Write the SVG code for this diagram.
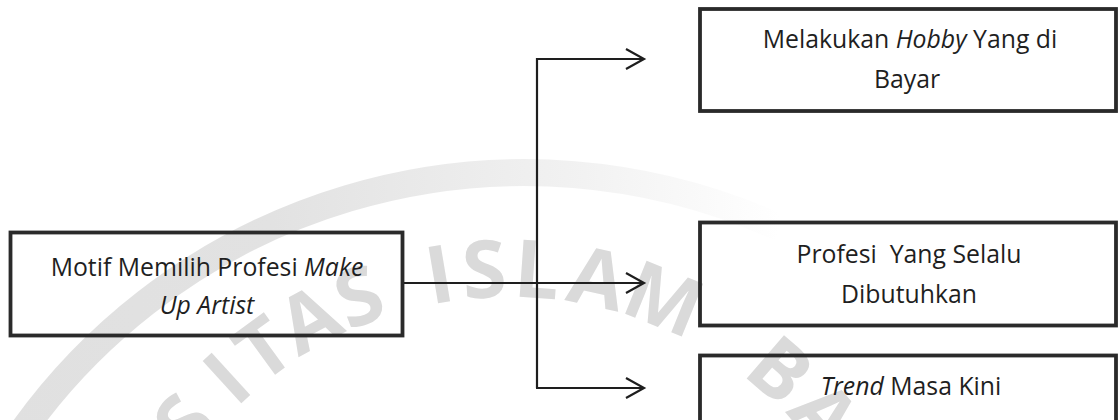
<svg xmlns="http://www.w3.org/2000/svg" width="1119" height="420" viewBox="0 0 1119 420">
<style>
.box{fill:none;stroke:#2a2a2a;stroke-width:3.8}
.lbl{font-family:"Open Sans","Noto Sans",sans-serif;font-size:24.8px;fill:#1f1f1f;text-anchor:middle}
.it{font-style:italic}
.wm{font-family:"Open Sans","Liberation Sans",sans-serif;font-weight:bold;font-size:80px;fill:#dadada;text-anchor:middle}
.con{fill:none;stroke:#1e1e1e;stroke-width:2.2}
</style>
<defs>
<linearGradient id="fade" gradientUnits="userSpaceOnUse" x1="0" y1="0" x2="780" y2="0">
<stop offset="0" stop-color="#e0e0e0"/>
<stop offset="0.35" stop-color="#e2e2e2"/>
<stop offset="0.75" stop-color="#f2f2f2"/>
<stop offset="1" stop-color="#ffffff"/>
</linearGradient>
<marker id="arr" markerWidth="22" markerHeight="24" refX="19" refY="11" orient="auto" markerUnits="userSpaceOnUse">
<path d="M1,1 L19,11 L1,21" fill="none" stroke="#1e1e1e" stroke-width="2.2"/>
</marker>
</defs>
<rect width="1119" height="420" fill="#ffffff"/>
<g id="watermark">
<path d="M3,460 A617,617 0 0 1 780,228" fill="none" stroke="url(#fade)" stroke-width="27"/>
<text class="wm" x="508" y="297" transform="rotate(-51 508 685)">S</text>
<text class="wm" x="508" y="297" transform="rotate(-42.5 508 685)">I</text>
<text class="wm" x="508" y="297" transform="rotate(-36 508 685)">T</text>
<text class="wm" x="508" y="297" transform="rotate(-28.5 508 685)">A</text>
<text class="wm" x="508" y="297" transform="rotate(-21 508 685)">S</text>
<text class="wm" x="508" y="297" transform="rotate(-9.5 508 685)">I</text>
<text class="wm" x="508" y="297" transform="rotate(-3.3 508 685)">S</text>
<text class="wm" x="508" y="297" transform="rotate(4 508 685)">L</text>
<text class="wm" x="508" y="297" transform="rotate(12.4 508 685)">A</text>
<text class="wm" x="508" y="297" transform="rotate(22 508 685)">M</text>
<text class="wm" x="508" y="297" transform="rotate(40.8 508 685)">B</text>
<text class="wm" x="508" y="297" transform="rotate(49.5 508 685)">A</text>
</g>
<g id="connectors">
<line class="con" x1="404" y1="283" x2="644" y2="283" marker-end="url(#arr)"/>
<polyline class="con" points="537,388 537,59 644,59" marker-end="url(#arr)"/>
<line class="con" x1="536" y1="388" x2="644" y2="388" marker-end="url(#arr)"/>
</g>
<g id="node-motif">
<rect class="box" x="10.5" y="232.5" width="392" height="103"/>
<text class="lbl" x="207" y="276">Motif Memilih Profesi <tspan class="it">Make</tspan></text>
<text class="lbl it" x="207" y="314">Up Artist</text>
</g>
<g id="node-hobby">
<rect class="box" x="700" y="9" width="416" height="102"/>
<text class="lbl" x="910" y="48">Melakukan <tspan class="it">Hobby</tspan> Yang di</text>
<text class="lbl" x="907" y="88">Bayar</text>
</g>
<g id="node-profesi">
<rect class="box" x="700" y="222.5" width="416" height="103"/>
<text class="lbl" x="909" y="263" xml:space="preserve">Profesi  Yang Selalu</text>
<text class="lbl" x="909" y="303">Dibutuhkan</text>
</g>
<g id="node-trend">
<rect class="box" x="700" y="355.5" width="416" height="100"/>
<text class="lbl" x="911" y="395"><tspan class="it">Trend</tspan> Masa Kini</text>
</g>
</svg>
